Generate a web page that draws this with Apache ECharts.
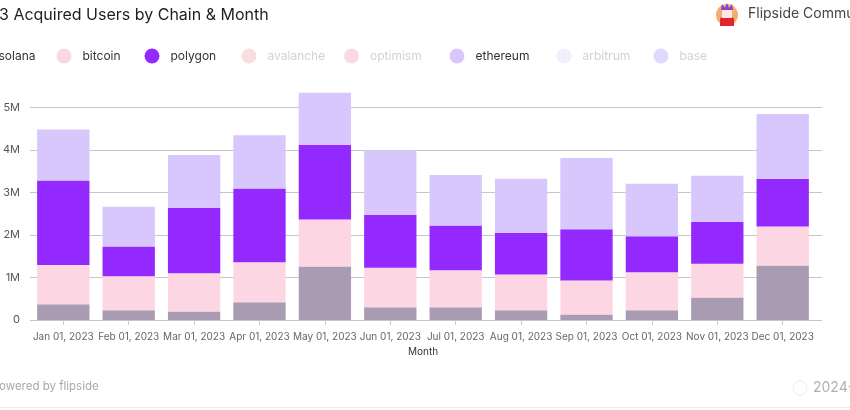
<!DOCTYPE html>
<html>
<head>
<meta charset="utf-8">
<script src="https://cdn.jsdelivr.net/npm/echarts@6/dist/echarts.min.js"></script>
<style>
html,body{margin:0;padding:0;background:#fff;}
#chart{width:850px;height:410px;}
</style>
</head>
<body>
<div id="chart"></div>
<script>
const months = ['Jan 01, 2023','Feb 01, 2023','Mar 01, 2023','Apr 01, 2023','May 01, 2023','Jun 01, 2023','Jul 01, 2023','Aug 01, 2023','Sep 01, 2023','Oct 01, 2023','Nov 01, 2023','Dec 01, 2023'];
const solana   = [370000, 230000, 200000, 420000, 1260000, 300000, 300000, 230000, 130000, 230000, 530000, 1280000];
const bitcoin  = [920000, 800000, 900000, 940000, 1100000, 930000, 870000, 840000, 800000, 890000, 790000, 920000];
const polygon  = [1990000, 700000, 1540000, 1730000, 1750000, 1240000, 1050000, 980000, 1200000, 850000, 990000, 1120000];
const ethereum = [1200000, 930000, 1240000, 1250000, 1230000, 1520000, 1190000, 1270000, 1680000, 1230000, 1080000, 1520000];
const chainNames = ['solana','bitcoin','polygon','avalanche','optimism','ethereum','arbitrum','base'];
const yTicks = [0, 1000000, 2000000, 3000000, 4000000, 5000000, 6000000];

const colors = {solana:'#a99bb2', bitcoin:'#fdd6e4', polygon:'#9329fe', ethereum:'#d8c7fd'};
const faded = {avalanche:'#f8dede', optimism:'#fcdae4', arbitrum:'#f0effb', base:'#dfdafc'};
const seriesData = {solana, bitcoin, polygon, ethereum};
// legend marker centre x positions (layout only)
const legendX = [-14, 70, 158, 255, 357.5, 463, 570, 667];

const chart = echarts.init(document.getElementById('chart'), null, {renderer:'canvas'});
const font = 'Inter, "Noto Sans", sans-serif';

const legends = chainNames.map((n, i) => ({
  left: legendX[i] - 13.5, top:48.5, padding:0, icon:'circle', itemWidth:27, itemHeight:15,
  selectedMode:false,
  textStyle:{fontSize:12, fontFamily:font, color: faded[n] ? '#d2d2d2' : '#333'},
  data:[{name:n, itemStyle:{color: colors[n] || faded[n]}}]
}));

const series = chainNames.map(n => ({
  name:n, type:'bar', stack:'total', xAxisIndex:1, yAxisIndex:1,
  barCategoryGap:'20%',
  itemStyle:{color: colors[n] || faded[n]},
  data: seriesData[n] || []
}));

chart.setOption({
  animation:false,
  textStyle:{fontFamily:font},
  legend: legends,
  grid:[
    {left:24, right:28, top:64.7, bottom:90},
    {left:30.6, right:34.6, top:64.7, bottom:90}
  ],
  xAxis:[
    {gridIndex:0, type:'value', show:false, min:0, max:1},
    {gridIndex:1, type:'category', data:months,
     axisLine:{show:false},
     axisTick:{show:true, alignWithLabel:true, length:5, lineStyle:{color:'#c8c8c8'}},
     axisLabel:{color:'#666', fontSize:10, margin:12, fontFamily:font, interval:0},
     name:'Month', nameLocation:'middle', nameGap:27,
     nameTextStyle:{color:'#333', fontSize:10, fontFamily:font}}
  ],
  yAxis:[
    {gridIndex:0, type:'value', min:yTicks[0], max:yTicks[yTicks.length-1], interval:yTicks[1]-yTicks[0],
     axisLine:{show:false}, axisTick:{show:false},
     splitLine:{show:true, showMaxLine:false, lineStyle:{color:'#c6c6c6', width:1}},
     axisLabel:{color:'#555', fontSize:11, margin:10, fontFamily:font,
       formatter: v => v === yTicks[yTicks.length-1] ? '' : (v === 0 ? '0' : (v/1e6) + 'M')}},
    {gridIndex:1, type:'value', min:yTicks[0], max:yTicks[yTicks.length-1], show:false}
  ],
  series: series,
  graphic:[
    {type:'text', left:-1, top:7, style:{text:'3 Acquired Users by Chain & Month', font:'16px ' + font, fill:'#1f1f1f'}},
    {type:'circle', shape:{cx:727, cy:15, r:11}, style:{fill:'#f5ad72'}},
    {type:'rect', shape:{x:720, y:17, width:14, height:9, r:[3,3,0,0]}, style:{fill:'#e0262b'}},
    {type:'rect', shape:{x:722, y:9, width:10, height:9}, style:{fill:'#fbe9e4'}},
    {type:'polygon', shape:{points:[[721,10],[722,4],[725,8],[727,3],[729,8],[732,4],[733,10]]}, style:{fill:'#8a3fd1'}},
    {type:'text', left:748, top:7, style:{text:'Flipside Community', font:'14px ' + font, fill:'#444'}},
    {type:'text', left:-1, top:381, style:{text:'owered by flipside', font:'11.5px ' + font, fill:'#a8a8a8'}},
    {type:'circle', shape:{cx:800, cy:388, r:7}, style:{fill:'none', stroke:'#eeeeee', lineWidth:1}},
    {type:'text', left:813, top:381, style:{text:'2024-01', font:'14px ' + font, fill:'#b0b0b0'}},
    {type:'line', shape:{x1:0, y1:407.5, x2:850, y2:407.5}, style:{stroke:'#ececec', lineWidth:1}}
  ]
});
</script>
</body>
</html>
